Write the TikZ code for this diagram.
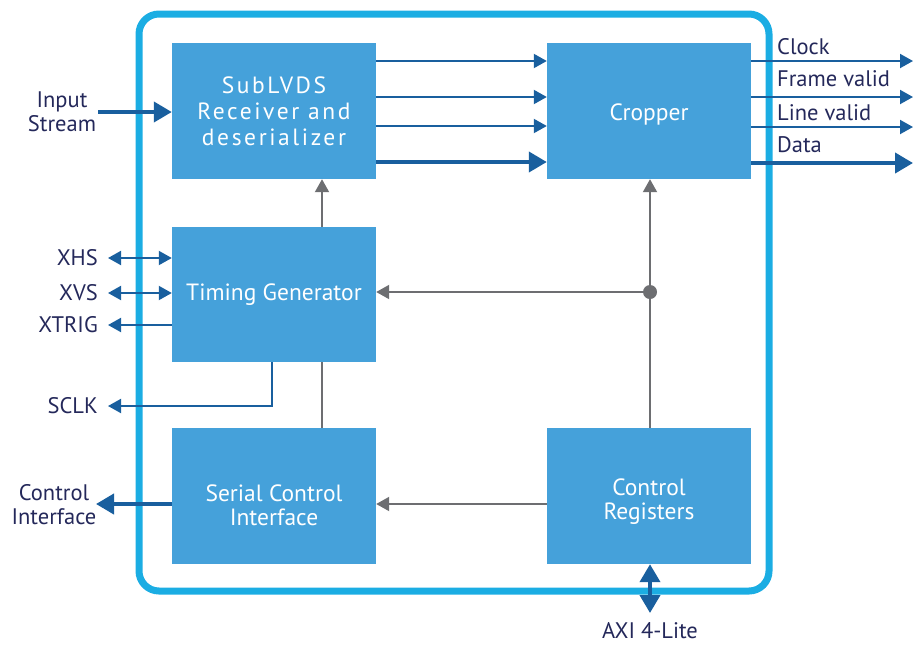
\documentclass[tikz,border=0pt]{standalone}
\usepackage{fontspec}
\setmainfont{PT Sans}
\usetikzlibrary{arrows.meta,calc}
\definecolor{blockblue}{HTML}{45A1DA}
\definecolor{framecyan}{HTML}{1BADE3}
\definecolor{sigblue}{HTML}{195F9E}
\definecolor{ctrlgray}{HTML}{6D6E71}
\definecolor{labelnavy}{HTML}{24285A}
\tikzset{
  blk/.style={fill=blockblue, text=white, minimum width=204, minimum height=136,
    inner sep=0pt, align=center, font=\fontsize{23.5}{24}\selectfont},
  blktxt/.style={text=white, inner sep=0pt, align=center, font=\fontsize{23.5}{24}\selectfont},
  lbl/.style={text=labelnavy, inner sep=0pt, font=\fontsize{22.5}{24}\selectfont},
  sig/.style={draw=sigblue, line width=2, -{Triangle[length=13,width=14]}},
  bus/.style={draw=sigblue, line width=4, -{Triangle[length=18,width=20]}},
  ctl/.style={draw=ctrlgray, line width=2, -{Triangle[length=13,width=14]}},
}
\begin{document}
\begin{tikzpicture}[x=1pt, y=-1pt] % {{{
\useasboundingbox (0,0) rectangle (923,646);
% frame
\draw[framecyan, line width=7, rounded corners=20] (139,14) rectangle (769,591);
% blocks {{{
\node[blk, font=\fontsize{23.5}{26}\selectfont] (sub) at (274,111) {\addfontfeature{LetterSpace=11}SubLVDS\\\addfontfeature{LetterSpace=11}Receiver and\\\addfontfeature{LetterSpace=11}deserializer};
\node[blk] (crop) at (649,111) {};
\node[blktxt] (cropt) at (649,114) {Cropper};
\node[blk, minimum height=135] (tim) at (274,294.5) {Timing Generator};
\node[blk] (sci) at (274,496) {};
\node[blktxt] (scit) at (274,505) {Serial Control\\Interface};
\node[blk] (creg) at (649,496) {};
\node[blktxt] (cregt) at (649,502) {Control\\Registers};
% }}}
% receiver to cropper {{{
\foreach \yy in {61,97,126} {
  \draw[sig] (sub.east |- 0,\yy) -- (crop.west |- 0,\yy);
}
\draw[bus] (sub.east |- 0,162) -- (crop.west |- 0,162);
% }}}
% outputs {{{
\coordinate (clk) at (913,61);
\coordinate (fv) at (913,97);
\coordinate (lv) at (913,127);
\coordinate (dat) at (913,163);
\draw[sig] (crop.east |- clk) -- (clk);
\draw[sig] (crop.east |- fv) -- (fv);
\draw[sig] (crop.east |- lv) -- (lv);
\draw[bus] (crop.east |- dat) -- (dat);
\node[lbl, anchor=west] (clkl) at (777,47) {Clock};
\node[lbl, anchor=west] (fvl) at (777,79) {Frame valid};
\node[lbl, anchor=west] (lvl) at (777,113) {Line valid};
\node[lbl, anchor=west] (datl) at (777,145) {Data};
% }}}
% left side {{{
\node[lbl, align=center] (instr) at (62,112) {Input\\Stream};
\draw[bus] (98,112) -- (sub.west |- 0,112);
\node[lbl, anchor=east] (xhs) at (98,258) {XHS};
\node[lbl, anchor=east] (xvs) at (98,293) {XVS};
\node[lbl, anchor=east] (xtrig) at (98,325) {XTRIG};
\node[lbl, anchor=east] (sclk) at (98,406) {SCLK};
\draw[sig, {Triangle[length=13,width=14]}-{Triangle[length=13,width=14]}] (108,258) -- (tim.west |- 0,258);
\draw[sig, {Triangle[length=13,width=14]}-{Triangle[length=13,width=14]}] (108,293) -- (tim.west |- 0,293);
\draw[sig] (tim.west |- 0,325) -- (108,325);
\draw[sig] (tim.south -| 272,0) -- (272,406) -- (108,406);
\node[lbl, align=center] (ctlif) at (54,505) {Control\\Interface};
\draw[bus] (sci.west |- 0,504) -- (96,504);
% }}}
% control paths {{{
\draw[ctl] (tim.north -| 322,0) -- (sub.south -| 322,0);
\draw[ctrlgray, line width=2] (sci.north -| 322,0) -- (tim.south -| 322,0);
\coordinate (dot) at (650,292);
\draw[ctl] (creg.north -| dot) -- (crop.south -| dot);
\draw[ctl] (dot) -- (tim.east |- dot);
\fill[ctrlgray] (dot) circle (7);
\draw[ctl] (creg.west |- 0,504) -- (sci.east |- 0,504);
% }}}
% axi {{{
\node[lbl] (axi) at (650,631) {AXI 4-Lite};
\draw[bus, {Triangle[length=18,width=20]}-{Triangle[length=18,width=20]}] (creg.south -| axi) -- (650,613);
% }}}
\end{tikzpicture} % }}}
\end{document}
